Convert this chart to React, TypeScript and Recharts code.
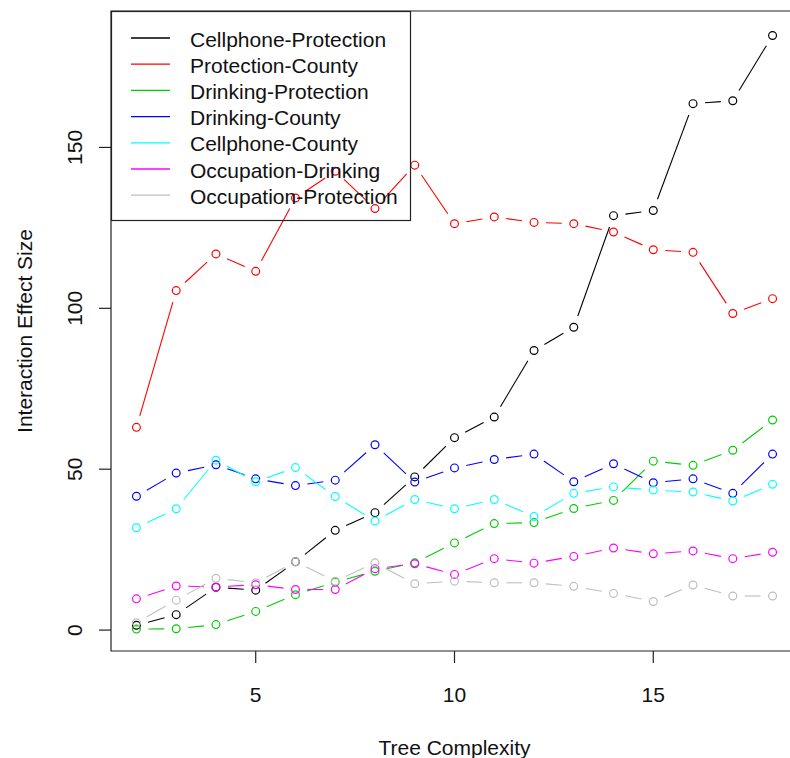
import { LineChart, Line, XAxis, YAxis, ReferenceArea } from "recharts"

const complexity = [2, 3, 4, 5, 6, 7, 8, 9, 10, 11, 12, 13, 14, 15, 16, 17, 18]
const xTicks = [5, 10, 15]
const yTicks = [0, 50, 100, 150]

const cellphoneProtection = [1.5, 4.8, 13.3, 12.4, 21.2, 31, 36.5, 47.6, 59.8, 66.2, 86.9, 94.1, 128.8, 130.4, 163.6, 164.5, 184.8]
const protectionCounty = [63.0, 105.5, 116.9, 111.5, 134.3, 142.6, 131.0, 144.5, 126.3, 128.4, 126.7, 126.3, 123.7, 118.2, 117.4, 98.4, 103.0]
const drinkingProtection = [0.3, 0.4, 1.7, 5.8, 11.0, 14.9, 18.3, 20.9, 27.1, 33.1, 33.4, 37.8, 40.3, 52.5, 51.2, 55.9, 65.3]
const drinkingCounty = [41.6, 48.8, 51.4, 47.0, 44.9, 46.6, 57.6, 46.0, 50.4, 53.0, 54.7, 46.1, 51.7, 45.8, 47.0, 42.5, 54.7]
const cellphoneCounty = [31.8, 37.7, 52.8, 46.1, 50.5, 41.5, 33.9, 40.6, 37.7, 40.6, 35.3, 42.5, 44.5, 43.5, 42.9, 40.1, 45.3]
const occupationDrinking = [9.7, 13.7, 13.4, 14.1, 12.6, 12.6, 19.1, 20.6, 17.3, 22.2, 20.8, 22.9, 25.5, 23.7, 24.6, 22.2, 24.2]
const occupationProtection = [2.3, 9.3, 16.1, 14.7, 21.2, 15.2, 20.9, 14.4, 15.2, 14.7, 14.7, 13.6, 11.4, 8.9, 14.0, 10.6, 10.6]

const series = [
  { key: "cp", name: "Cellphone-Protection", color: "#000000", values: cellphoneProtection },
  { key: "pc", name: "Protection-County", color: "#FF0000", values: protectionCounty },
  { key: "dp", name: "Drinking-Protection", color: "#00CD00", values: drinkingProtection },
  { key: "dc", name: "Drinking-County", color: "#0000FF", values: drinkingCounty },
  { key: "cc", name: "Cellphone-County", color: "#00FFFF", values: cellphoneCounty },
  { key: "od", name: "Occupation-Drinking", color: "#FF00FF", values: occupationDrinking },
  { key: "op", name: "Occupation-Protection", color: "#BEBEBE", values: occupationProtection },
]

const data = complexity.map((x, i) => {
  const row: Record<string, number> = { x }
  for (const s of series) row[s.key] = s.values[i]
  return row
})

const FONT = "'Liberation Sans', Arial, Helvetica, sans-serif"
const AXIS = "#222"

// R's type="b": open circles, segments stop short of each point
function GapDot(props: any) {
  const { cx, cy, index, points, color } = props
  const gap = 12
  let seg = null
  const next = points?.[index + 1]
  if (next && next.y != null) {
    const dx = next.x - cx
    const dy = next.y - cy
    const d = Math.hypot(dx, dy)
    if (d > gap * 2) {
      seg = (
        <line
          x1={cx + (dx / d) * gap}
          y1={cy + (dy / d) * gap}
          x2={next.x - (dx / d) * gap}
          y2={next.y - (dy / d) * gap}
          stroke={color}
          strokeWidth={1.1}
        />
      )
    }
  }
  return (
    <g key={`d-${index}`}>
      {seg}
      <circle cx={cx} cy={cy} r={3.9} fill="none" stroke={color} strokeWidth={1.2} />
    </g>
  )
}

function YTick({ x, y, payload }: any) {
  return (
    <text
      x={x - 22}
      y={y}
      transform={`rotate(-90, ${x - 22}, ${y})`}
      textAnchor="middle"
      dominantBaseline="central"
      fontSize={21}
      fontFamily={FONT}
      fill="#111"
    >
      {payload.value}
    </text>
  )
}

function XTick({ x, y, payload }: any) {
  return (
    <text x={x} y={y + 29} textAnchor="middle" dominantBaseline="central" fontSize={21} fontFamily={FONT} fill="#111">
      {payload.value}
    </text>
  )
}

function LegendBox() {
  return (
    <svg width={790} height={758} style={{ position: "absolute", left: 0, top: 0, pointerEvents: "none" }}>
      <rect x={111.5} y={11.5} width={299} height={209} fill="none" stroke={AXIS} strokeWidth={1.2} />
      {series.map((s, i) => {
        const y = 38 + i * 26.2
        return (
          <g key={s.key}>
            <line x1={131} x2={170} y1={y} y2={y} stroke={s.color} strokeWidth={1.3} />
            <text x={190} y={y + 1} dominantBaseline="central" fontSize={21} fontFamily={FONT} fill="#111">
              {s.name}
            </text>
          </g>
        )
      })}
    </svg>
  )
}

export default function App() {
  return (
    <div style={{ position: "absolute", left: 0, top: 0, width: 790, height: 758, overflow: "hidden", background: "#fff" }}>
      <LineChart width={810} height={758} data={data} margin={{ top: 11, right: 12, bottom: 0, left: 0 }}>
        <XAxis
          dataKey="x"
          type="number"
          domain={[1.36, 18.64]}
          allowDataOverflow
          ticks={xTicks}
          tickSize={12}
          tickLine={{ stroke: AXIS, strokeWidth: 1.2 }}
          axisLine={false}
          tick={<XTick />}
          height={107}
          label={{
            content: ({ viewBox }: any) => (
              <text
                x={viewBox.x + viewBox.width / 2}
                y={747}
                textAnchor="middle"
                dominantBaseline="central"
                fontSize={21}
                fontFamily={FONT}
                fill="#111"
              >
                Tree Complexity
              </text>
            ),
          }}
        />
        <YAxis
          type="number"
          domain={[-6.5, 192.4]}
          allowDataOverflow
          ticks={yTicks}
          tickSize={12}
          tickLine={{ stroke: AXIS, strokeWidth: 1.2 }}
          axisLine={false}
          tick={<YTick />}
          width={111}
          label={{
            content: () => (
              <text
                x={24}
                y={331}
                transform="rotate(-90, 24, 331)"
                textAnchor="middle"
                dominantBaseline="central"
                fontSize={21}
                fontFamily={FONT}
                fill="#111"
              >
                Interaction Effect Size
              </text>
            ),
          }}
        />
        <ReferenceArea x1={1.36} x2={18.64} y1={-6.5} y2={192.4} fill="none" stroke={AXIS} strokeWidth={1.2} />
        {series.map((s) => (
          <Line
            key={s.key}
            dataKey={s.key}
            name={s.name}
            stroke="none"
            isAnimationActive={false}
            dot={(p: any) => <GapDot {...p} color={s.color} key={`${s.key}-${p.index}`} />}
            activeDot={false}
          />
        ))}
      </LineChart>
      <LegendBox />
    </div>
  )
}
